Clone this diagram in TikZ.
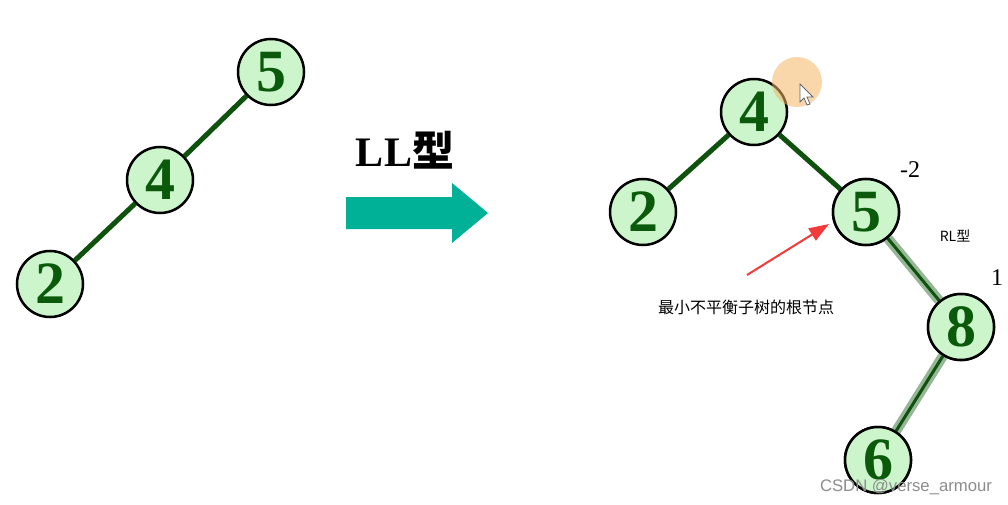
\documentclass[tikz,border=0pt]{standalone}
\usepackage{fontspec}
\setmainfont{Liberation Serif}
\newfontfamily\cjkfont{Noto Sans CJK SC}
\newfontfamily\sansfont{Liberation Sans}
\usetikzlibrary{arrows.meta}
\definecolor{nodefill}{HTML}{CCF5CC}
\definecolor{digit}{HTML}{0B5A0B}
\definecolor{edgec}{HTML}{0E520E}
\definecolor{fadec}{HTML}{97B697}
\definecolor{teal}{HTML}{00B097}
\definecolor{hl}{HTML}{F6B466}
\definecolor{redarrow}{HTML}{F23A3A}
\tikzset{
  tnode/.style={circle, draw=black, line width=2.5pt, fill=nodefill, minimum size=66pt, inner sep=0pt,
    font=\fontsize{60}{60}\selectfont\bfseries, text=digit},
  edge/.style={draw=edgec, line width=5pt},
  fadeedge/.style={draw=fadec, line width=10pt},
  thinedge/.style={draw=edgec, line width=3pt},
}
\begin{document}
\begin{tikzpicture}[x=1pt,y=-1pt]
\useasboundingbox (0,0) rectangle (1008,505);
% left tree
\node[tnode] (a5) at (271,72) {5};
\node[tnode] (a4) at (160,180) {4};
\node[tnode] (a2) at (50,284) {2};
\draw[edge] (a5) -- (a4);
\draw[edge] (a4) -- (a2);
% middle arrow
\node[font=\fontsize{42}{42}\selectfont\bfseries, inner sep=0pt] (ll) at (405,150) {LL\cjkfont 型};
\fill[teal] (346,197) -- (452,197) -- (452,183) -- (488,213) -- (452,243) -- (452,229) -- (346,229) -- cycle;
% right tree
\node[tnode] (r4) at (754,112) {4};
\node[tnode] (r2) at (643,212) {2};
\node[tnode] (r5) at (866,212) {5};
\node[tnode] (r8) at (961,327) {8};
\node[tnode] (r6) at (878,460) {6};
\draw[edge] (r4) -- (r2);
\draw[edge] (r4) -- (r5);
\draw[fadeedge] (r5) -- (r8);
\draw[thinedge] (r5) -- (r8);
\draw[fadeedge] (r8) -- (r6);
\draw[thinedge] (r8) -- (r6);
\node[tnode] at (r5) {5};
\node[tnode] at (r8) {8};
\node[tnode] at (r6) {6};
% highlight and cursor
\fill[hl, opacity=0.55] (797,82) circle (25);
\filldraw[fill=white, draw=black!60, line width=0.8pt] (800,84) -- (800,102) -- (804,98) -- (807,105) -- (810,104) -- (807,97) -- (813,97) -- cycle;
% labels
\node[font=\fontsize{24}{24}\selectfont, inner sep=0pt] (m2) at (910,170) {-2};
\node[font=\fontsize{24}{24}\selectfont, inner sep=0pt] (one) at (997,278) {1};
\node[font=\fontsize{14}{14}\selectfont\cjkfont, inner sep=0pt] (rl) at (955,236) {RL型};
\node[font=\fontsize{16}{16}\selectfont\cjkfont, inner sep=0pt] (lbl) at (746,307) {最小不平衡子树的根节点};
\coordinate (rs) at (747,275);
\coordinate (re) at (829,224);
\draw[redarrow, line width=2pt, -{Triangle[length=20pt, width=14pt]}] (rs) -- (re);
\node[font=\fontsize{16.7}{17}\selectfont\sansfont, text=black!45, inner sep=0pt] (wm) at (906,487) {CSDN @verse\_armour};
\end{tikzpicture}
\end{document}
